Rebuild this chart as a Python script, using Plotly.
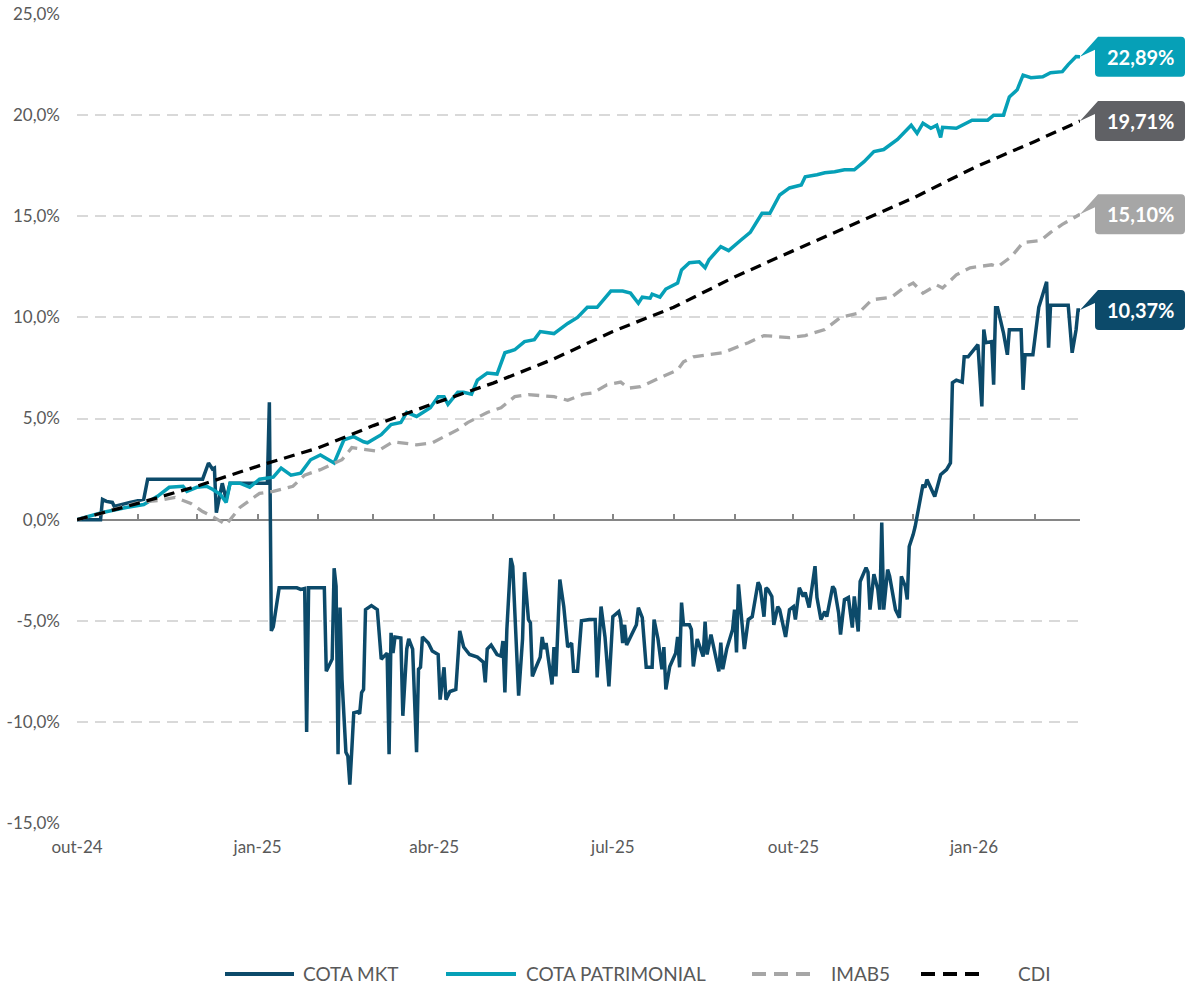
import plotly.graph_objects as go
import pandas as pd

# ---------------- data (accumulated return, %) ----------------
cdi_dates = ["2024-10-01", "2024-11-01", "2024-12-01", "2025-01-02", "2025-02-01", "2025-03-01",
             "2025-04-01", "2025-05-01", "2025-06-01", "2025-07-01", "2025-08-01", "2025-09-01",
             "2025-10-01", "2025-11-01", "2025-12-01", "2026-01-01", "2026-02-01", "2026-02-24"]
cdi_values = [0.0, 0.8, 1.65, 2.67, 3.55, 4.65,
              5.75, 6.75, 7.95, 9.3, 10.5, 12.0,
              13.3, 14.6, 15.9, 17.4, 18.7, 19.71]

imab_dates = ["2024-10-01", "2024-10-13", "2024-10-23", "2024-11-02", "2024-11-12", "2024-11-20",
              "2024-11-28", "2024-12-04", "2024-12-10", "2024-12-16", "2024-12-23",
              "2025-01-02", "2025-01-09", "2025-01-19", "2025-01-25", "2025-02-02", "2025-02-13",
              "2025-02-18", "2025-03-03", "2025-03-11", "2025-03-23", "2025-03-31",
              "2025-04-06", "2025-04-13", "2025-04-18", "2025-04-28", "2025-05-05", "2025-05-12",
              "2025-05-19", "2025-06-01", "2025-06-08", "2025-06-16", "2025-06-21", "2025-06-28",
              "2025-07-05", "2025-07-09", "2025-07-15", "2025-07-22", "2025-07-27", "2025-08-03",
              "2025-08-06", "2025-08-11", "2025-08-26", "2025-09-08", "2025-09-16", "2025-09-29",
              "2025-10-07", "2025-10-17", "2025-10-25", "2025-11-03", "2025-11-10", "2025-11-20",
              "2025-11-26", "2025-12-01", "2025-12-06", "2025-12-13", "2025-12-16", "2025-12-23",
              "2025-12-30", "2026-01-10", "2026-01-13", "2026-01-20", "2026-01-26", "2026-02-04",
              "2026-02-09", "2026-02-15", "2026-02-24"]
imab_values = [0.0, 0.3, 0.6, 0.85, 0.95, 1.1,
               0.8, 0.4, 0.1, -0.25, 0.6,
               1.3, 1.4, 1.65, 2.2, 2.47, 2.96,
               3.56, 3.38, 3.85, 3.7, 3.8,
               4.1, 4.45, 4.8, 5.3, 5.53, 6.08,
               6.18, 6.08, 5.9, 6.2, 6.27, 6.67,
               6.8, 6.5, 6.57, 6.9, 7.1, 7.4,
               7.8, 8.05, 8.25, 8.75, 9.1, 9.0,
               9.1, 9.4, 10.0, 10.2, 10.87, 11.0,
               11.45, 11.7, 11.2, 11.6, 11.45, 12.1,
               12.45, 12.6, 12.5, 13.0, 13.7, 13.8,
               14.2, 14.6, 15.10]

pat_dates = ["2024-10-01", "2024-10-14", "2024-10-26", "2024-11-04", "2024-11-11", "2024-11-17",
             "2024-11-24", "2024-11-26", "2024-12-01", "2024-12-06", "2024-12-09", "2024-12-13",
             "2024-12-16", "2024-12-18", "2024-12-23", "2024-12-28",
             "2025-01-02", "2025-01-09", "2025-01-13", "2025-01-18", "2025-01-23", "2025-01-28",
             "2025-02-02", "2025-02-09", "2025-02-14", "2025-02-19", "2025-02-24", "2025-02-26",
             "2025-03-05", "2025-03-10", "2025-03-15", "2025-03-18", "2025-03-23", "2025-03-30",
             "2025-04-03", "2025-04-06", "2025-04-08", "2025-04-13", "2025-04-16", "2025-04-20",
             "2025-04-23", "2025-04-28", "2025-05-03", "2025-05-07", "2025-05-12", "2025-05-17",
             "2025-05-22", "2025-05-25", "2025-06-01", "2025-06-08", "2025-06-13", "2025-06-18",
             "2025-06-23", "2025-06-30", "2025-07-06", "2025-07-10", "2025-07-14", "2025-07-16",
             "2025-07-20", "2025-07-21", "2025-07-25", "2025-07-28", "2025-08-03", "2025-08-05",
             "2025-08-09", "2025-08-14", "2025-08-17", "2025-08-19", "2025-08-25", "2025-08-29",
             "2025-09-04", "2025-09-09", "2025-09-15", "2025-09-19", "2025-09-24", "2025-09-29",
             "2025-10-05", "2025-10-07", "2025-10-13", "2025-10-17", "2025-10-22", "2025-10-27",
             "2025-11-01", "2025-11-06", "2025-11-11", "2025-11-16", "2025-11-23", "2025-11-30",
             "2025-12-03", "2025-12-06", "2025-12-10", "2025-12-13", "2025-12-15", "2025-12-16",
             "2025-12-23", "2025-12-31", "2026-01-08", "2026-01-11", "2026-01-16", "2026-01-19",
             "2026-01-23", "2026-01-26", "2026-01-30", "2026-02-05", "2026-02-09", "2026-02-15",
             "2026-02-18", "2026-02-22", "2026-02-24"]
pat_values = [0.0, 0.35, 0.6, 0.75, 1.15, 1.6,
              1.65, 1.4, 1.6, 1.65, 1.5, 1.25,
              0.85, 1.8, 1.8, 1.6,
              2.0, 2.1, 2.55, 2.2, 2.3, 2.96,
              3.2, 2.8, 3.95, 4.1, 3.85, 3.8,
              4.2, 4.7, 4.8, 5.3, 5.1, 5.53,
              6.08, 6.08, 5.7, 6.3, 6.3, 6.2,
              6.9, 7.25, 7.2, 8.25, 8.4, 8.8,
              8.9, 9.3, 9.2, 9.7, 10.0, 10.5,
              10.5, 11.3, 11.3, 11.2, 10.7, 11.0,
              10.95, 11.15, 11.0, 11.4, 11.7, 12.35,
              12.7, 12.75, 12.45, 12.85, 13.5, 13.3,
              13.8, 14.2, 15.15, 15.15, 16.05, 16.4,
              16.55, 16.95, 17.05, 17.15, 17.2, 17.3,
              17.3, 17.7, 18.2, 18.3, 18.8, 19.5,
              19.1, 19.6, 19.35, 19.5, 18.9, 19.4,
              19.35, 19.75, 19.75, 20.0, 20.0, 20.9,
              21.25, 21.98, 21.85, 21.9, 22.1, 22.15,
              22.5, 22.9, 22.89]

mkt_dates = [
    "2024-10-01", "2024-10-13", "2024-10-14", "2024-10-16", "2024-10-19", "2024-10-20", "2024-10-28",
    "2024-11-04", "2024-11-06",
    "2024-12-04", "2024-12-07", "2024-12-09", "2024-12-10", "2024-12-11", "2024-12-14", "2024-12-16", "2024-12-18",
    "2025-01-06", "2025-01-07", "2025-01-08", "2025-01-09", "2025-01-12", "2025-01-21", "2025-01-23", "2025-01-25",
    "2025-01-26", "2025-01-27",
    "2025-02-04", "2025-02-05", "2025-02-08", "2025-02-09", "2025-02-10", "2025-02-11", "2025-02-12", "2025-02-13",
    "2025-02-15", "2025-02-16", "2025-02-17", "2025-02-18", "2025-02-19", "2025-02-21", "2025-02-22", "2025-02-23",
    "2025-02-24", "2025-02-25", "2025-02-28",
    "2025-03-03", "2025-03-05", "2025-03-07", "2025-03-08", "2025-03-09", "2025-03-10", "2025-03-11", "2025-03-12",
    "2025-03-15", "2025-03-16", "2025-03-18", "2025-03-19", "2025-03-21", "2025-03-23", "2025-03-24", "2025-03-25",
    "2025-03-26", "2025-03-29", "2025-03-31",
    "2025-04-03", "2025-04-04", "2025-04-06", "2025-04-07", "2025-04-09", "2025-04-12", "2025-04-14", "2025-04-16",
    "2025-04-19", "2025-04-23", "2025-04-26", "2025-04-27", "2025-04-28", "2025-04-30",
    "2025-05-03", "2025-05-05", "2025-05-06", "2025-05-07", "2025-05-08", "2025-05-10", "2025-05-11", "2025-05-14",
    "2025-05-16", "2025-05-17", "2025-05-19", "2025-05-20", "2025-05-21", "2025-05-23", "2025-05-25", "2025-05-26",
    "2025-05-27", "2025-05-28", "2025-05-31",
    "2025-06-01", "2025-06-02", "2025-06-04", "2025-06-06", "2025-06-08", "2025-06-10", "2025-06-11", "2025-06-13",
    "2025-06-15", "2025-06-19", "2025-06-22", "2025-06-23", "2025-06-25", "2025-06-27", "2025-06-29",
    "2025-07-01", "2025-07-04", "2025-07-05", "2025-07-06", "2025-07-07", "2025-07-08", "2025-07-11", "2025-07-13",
    "2025-07-14", "2025-07-16", "2025-07-18", "2025-07-21", "2025-07-22", "2025-07-24", "2025-07-26", "2025-07-27",
    "2025-07-28", "2025-07-30",
    "2025-08-02", "2025-08-03", "2025-08-04", "2025-08-05", "2025-08-06", "2025-08-09", "2025-08-10", "2025-08-11",
    "2025-08-13", "2025-08-16", "2025-08-17", "2025-08-18", "2025-08-20", "2025-08-22", "2025-08-24", "2025-08-25",
    "2025-08-26", "2025-08-28", "2025-08-31",
    "2025-09-01", "2025-09-02", "2025-09-03", "2025-09-05", "2025-09-06", "2025-09-08", "2025-09-10", "2025-09-13",
    "2025-09-14", "2025-09-16", "2025-09-17", "2025-09-18", "2025-09-20", "2025-09-21", "2025-09-23", "2025-09-24",
    "2025-09-27", "2025-09-29",
    "2025-10-01", "2025-10-02", "2025-10-04", "2025-10-06", "2025-10-07", "2025-10-09", "2025-10-12", "2025-10-13",
    "2025-10-15", "2025-10-17", "2025-10-18", "2025-10-21", "2025-10-22", "2025-10-24", "2025-10-25", "2025-10-27",
    "2025-10-29", "2025-10-31",
    "2025-11-01", "2025-11-03", "2025-11-04", "2025-11-07", "2025-11-08", "2025-11-09", "2025-11-11", "2025-11-13",
    "2025-11-14", "2025-11-15", "2025-11-16", "2025-11-18", "2025-11-19", "2025-11-22", "2025-11-24", "2025-11-25",
    "2025-11-27", "2025-11-28", "2025-11-29",
    "2025-12-01", "2025-12-02", "2025-12-06", "2025-12-07", "2025-12-08", "2025-12-12", "2025-12-15", "2025-12-18",
    "2025-12-20", "2025-12-21", "2025-12-23", "2025-12-26", "2025-12-27", "2025-12-29",
    "2026-01-03", "2026-01-05", "2026-01-06", "2026-01-07", "2026-01-10", "2026-01-11", "2026-01-12", "2026-01-13",
    "2026-01-16", "2026-01-18", "2026-01-19", "2026-01-25", "2026-01-26", "2026-01-27", "2026-01-31",
    "2026-02-03", "2026-02-07", "2026-02-08", "2026-02-09", "2026-02-18", "2026-02-20", "2026-02-22", "2026-02-23",
    "2026-02-24",
]
mkt_values = [
    0.0, 0.0, 1.0, 0.9, 0.85, 0.65, 0.85,
    1.0, 2.0,
    2.0, 2.8, 2.5, 2.55, 0.35, 1.8, 1.0, 1.8,
    1.8, 5.8, -5.5, -5.3, -3.37, -3.37, -3.45, -3.4,
    -10.5, -3.37,
    -3.37, -7.5, -6.9, -2.4, -3.3, -11.6, -4.35, -7.9,
    -11.5, -11.7, -13.1, -11.4, -9.55, -9.5, -9.6, -8.55,
    -8.4, -4.45, -4.25,
    -4.45, -6.9, -6.7, -6.6, -11.6, -5.6, -6.6, -5.8,
    -5.85, -9.7, -6.4, -5.9, -6.4, -11.5, -7.4, -7.3,
    -5.8, -6.1, -6.5,
    -6.67, -8.9, -7.3, -8.9, -8.5, -8.4, -5.5, -6.3,
    -6.67, -6.8, -7.05, -8.05, -6.4, -6.2,
    -6.67, -6.75, -6.0, -8.55, -5.43, -1.9, -2.3, -8.7,
    -5.9, -2.6, -4.94, -5.1, -7.75, -7.26, -6.8, -5.8,
    -6.4, -6.1, -8.15,
    -6.3, -7.75, -2.96, -4.3, -6.3, -6.1, -7.5, -7.5,
    -5.0, -4.94, -4.94, -7.8, -4.3, -5.8, -8.25,
    -4.8, -4.55, -4.94, -6.1, -5.2, -6.2, -5.6, -5.2,
    -4.35, -4.85, -7.3, -7.3, -4.94, -5.9, -7.4, -6.3,
    -8.4, -7.26,
    -6.6, -5.8, -7.3, -4.1, -5.2, -5.2, -5.43, -7.26,
    -5.9, -6.77, -5.04, -6.67, -5.68, -6.57, -7.5, -6.08,
    -7.4, -6.4, -5.43,
    -4.45, -6.57, -3.2, -5.43, -6.4, -4.94, -4.8, -3.1,
    -3.3, -4.8, -3.37, -3.45, -3.8, -5.2, -4.3, -4.45,
    -5.8, -4.45,
    -4.3, -4.94, -3.37, -3.8, -3.6, -4.35, -2.3, -3.85,
    -4.94, -4.55, -4.8, -3.3, -3.45, -4.6, -5.68, -3.95,
    -3.85, -5.34,
    -3.8, -5.53, -3.06, -2.37, -2.6, -4.45, -2.7, -3.45,
    -4.45, -0.15, -4.45, -2.47, -2.8, -4.45, -4.85, -2.8,
    -3.3, -3.95, -1.33,
    -0.74, -0.35, 1.73, 1.58, 1.98, 1.14, 2.22, 2.47,
    2.8, 6.77, 6.9, 6.8, 8.05, 8.05,
    8.65, 5.6, 9.4, 8.75, 8.8, 6.67, 10.47, 10.47,
    9.24, 8.15, 9.39, 9.39, 6.42, 8.15, 8.15,
    10.5, 11.76, 8.5, 10.6, 10.6, 8.25, 9.39, 10.37,
    10.37,
]

series_names = ["COTA MKT", "COTA PATRIMONIAL", "IMAB5", "CDI"]
x_tick_dates = ["2024-10-01", "2025-01-01", "2025-04-01", "2025-07-01", "2025-10-01", "2026-01-01"]
x_tick_labels = ["out-24", "jan-25", "abr-25", "jul-25", "out-25", "jan-26"]
y_tick_values = [-15, -10, -5, 0, 5, 10, 15, 20, 25]
y_tick_labels = ["-15,0%", "-10,0%", "-5,0%", "0,0%", "5,0%", "10,0%", "15,0%", "20,0%", "25,0%"]

for a, b in [(cdi_dates, cdi_values), (imab_dates, imab_values),
             (pat_dates, pat_values), (mkt_dates, mkt_values)]:
    assert len(a) == len(b), (len(a), len(b))

# ---------------- styling ----------------
NAVY = "#0c4a6a"
TEAL = "#06a0b7"
LGRAY = "#a6a6a6"
DGRAY = "#606165"
BLACK = "#000000"
TXT = "#595959"
FONT = "Lato, 'Open Sans', sans-serif"
DASH = "11px,7px"

Y_MIN, Y_MAX = -15, 25
X_START, X_END = cdi_dates[0], cdi_dates[-1]
L_M, R_M, T_M, B_M = 77, 106, 14, 164
W, H = 1186, 987
PW, PH = W - L_M - R_M, H - T_M - B_M

styles = [dict(color=NAVY, width=3.5), dict(color=TEAL, width=3.5),
          dict(color=LGRAY, width=3.3, dash=DASH), dict(color=BLACK, width=3.3, dash=DASH)]
series = [(mkt_dates, mkt_values), (pat_dates, pat_values),
          (imab_dates, imab_values), (cdi_dates, cdi_values)]

fig = go.Figure()
for name, (xs, ys), st in zip(series_names, series, styles):
    fig.add_trace(go.Scatter(x=xs, y=ys, name=name, mode="lines", line=st, showlegend=False))
# invisible helper so the zero-crossing axis (x2) is drawn
fig.add_trace(go.Scatter(x=cdi_dates[:1], y=cdi_values[:1], xaxis="x2", mode="markers",
                         marker=dict(opacity=0), showlegend=False, hoverinfo="skip"))

month_ticks = pd.date_range(X_START, X_END, freq="MS")


def xp(pix):  # pixel column -> paper x
    return (pix - L_M) / PW


def yp(pix):  # pixel row -> paper y
    return (H - B_M - pix) / PH


def ypaper(v):
    return (v - Y_MIN) / (Y_MAX - Y_MIN)


def callout(v, color):
    yc = ypaper(v)
    px = lambda p: 1 + p / PW
    py = lambda p: yc - p / PH  # p positive downward (pixels)
    Lx, Rx, T, B, r = 15, 105, -20, 20, 4
    pts = [
        ("M", px(0), py(0)),
        ("L", px(Lx), py(-7)),
        ("L", px(Lx), py(B - r)),
        ("Q", px(Lx), py(B), px(Lx + r), py(B)),
        ("L", px(Rx - r), py(B)),
        ("Q", px(Rx), py(B), px(Rx), py(B - r)),
        ("L", px(Rx), py(T + r)),
        ("Q", px(Rx), py(T), px(Rx - r), py(T)),
        ("L", px(Lx + 3), py(T)),
    ]
    path = " ".join(p[0] + " " + " ".join(f"{c:.5f}" for c in p[1:]) for p in pts) + " Z"
    fig.add_shape(type="path", path=path, xref="paper", yref="paper",
                  fillcolor=color, line=dict(width=0), layer="above")
    label = f"{v:.2f}".replace(".", ",") + "%"
    fig.add_annotation(x=px((Lx + Rx) / 2), y=v, xref="paper", yref="y", text=f"<b>{label}</b>",
                       showarrow=False, font=dict(family=FONT, size=20, color="white"),
                       xanchor="center", yanchor="middle")


callout(pat_values[-1], TEAL)
callout(cdi_values[-1], DGRAY)
callout(imab_values[-1], LGRAY)
callout(mkt_values[-1], NAVY)

# ---------------- legend (drawn as line samples + labels) ----------------
legend_slots = [(225, 294, 301), (446, 516, 524), (752, 813, 829), (921, 985, 1016)]
LEG_Y = 974
for name, st, (x0, x1, xt) in zip(series_names, styles, legend_slots):
    fig.add_shape(type="line", xref="paper", yref="paper", x0=xp(x0), x1=xp(x1),
                  y0=yp(LEG_Y), y1=yp(LEG_Y),
                  line=dict(color=st["color"], width=4, dash=("14px,8px" if "dash" in st else None)))
    fig.add_annotation(x=xp(xt), y=yp(LEG_Y), xref="paper", yref="paper", text=name,
                       showarrow=False, xanchor="left", yanchor="middle",
                       font=dict(family=FONT, size=19, color=TXT))

fig.update_layout(
    width=W, height=H,
    margin=dict(l=L_M, r=R_M, t=T_M, b=B_M, autoexpand=False),
    paper_bgcolor="white", plot_bgcolor="white",
    separators=",.",
    font=dict(family=FONT, color=TXT, size=17),
    showlegend=False,
    xaxis=dict(type="date", range=[X_START, X_END], tickvals=x_tick_dates, ticktext=x_tick_labels,
               showgrid=False, zeroline=False, showline=False, ticks="", automargin=False,
               tickfont=dict(family=FONT, size=17, color=TXT), ticklabelstandoff=12),
    xaxis2=dict(type="date", range=[X_START, X_END], overlaying="x", anchor="free", position=ypaper(0),
                side="bottom", showgrid=False, zeroline=False, showline=True, linecolor="#868686",
                linewidth=2, ticks="inside", ticklen=5, tickwidth=1.5, tickcolor="#868686",
                tickvals=list(month_ticks), showticklabels=False, layer="below traces",
                automargin=False),
    yaxis=dict(range=[Y_MIN, Y_MAX], tickvals=y_tick_values, ticktext=y_tick_labels,
               showgrid=True, gridcolor="#d9d9d9", gridwidth=2, griddash=DASH,
               zeroline=False, showline=False, ticks="", automargin=False,
               tickfont=dict(family=FONT, size=17, color=TXT), ticklabelstandoff=16),
)

fig.write_html("out.html", config={"displayModeBar": False},
               post_script="document.body.style.margin='0px';")
